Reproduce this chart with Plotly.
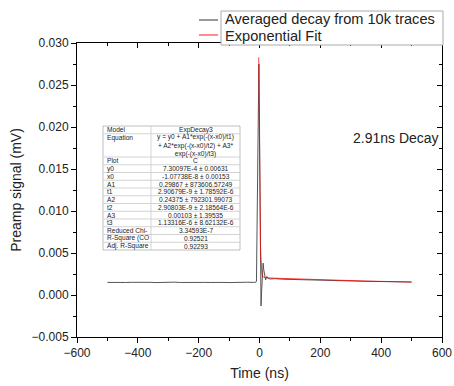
import plotly.graph_objects as go

# ---------------- data ----------------
x_avg = [-500, -480, -460, -440, -420, -400, -380, -360, -340, -320, -300, -280,
         -260, -240, -220, -200, -180, -160, -140, -120, -100, -80, -60, -40,
         -20, -12, -10, -8, -6, -4, -2, 0, 2, 4, 5, 7, 10, 12, 14, 17, 20, 24,
         28, 35, 50, 75, 100, 150, 200, 250, 300, 350, 400, 450, 500]
y_avg = [0.00150, 0.00148, 0.00152, 0.00149, 0.00151, 0.00153, 0.00149, 0.00151,
         0.00148, 0.00152, 0.00150, 0.00153, 0.00149, 0.00151, 0.00148, 0.00152,
         0.00150, 0.00149, 0.00152, 0.00150, 0.00148, 0.00151, 0.00149, 0.00152,
         0.00150, 0.00152, 0.00165, 0.0080, 0.0180, 0.0260, 0.0275, 0.0200,
         0.0080, -0.0005, -0.0013, 0.0005, 0.0030, 0.0038, 0.0030, 0.0020,
         0.0018, 0.0022, 0.0020, 0.0019, 0.00195, 0.00188, 0.00185, 0.00180,
         0.00176, 0.00171, 0.00168, 0.00163, 0.00160, 0.00157, 0.00154]

x_fit = [-2.5, -2, -1, 0, 1, 2, 3, 4, 5, 6, 8, 10, 15, 20, 50, 100, 150, 200,
         250, 300, 350, 400, 450, 500]
y_fit = [0.0283, 0.0255, 0.0190, 0.0142, 0.0107, 0.0081, 0.0062, 0.0048, 0.0039,
         0.0032, 0.0025, 0.0022, 0.0021, 0.00205, 0.0020, 0.00193, 0.00187,
         0.0018, 0.00175, 0.0017, 0.00166, 0.00162, 0.00158, 0.00155]

series_names = ["Averaged decay from 10k traces", "Exponential Fit"]
series_colors = ["#555555", "rgba(255,0,0,0.75)"]

table_col1 = ["Model", "Equation", "Plot", "y0", "x0", "A1", "t1", "A2", "t2", "A3",
              "t3", "Reduced Chi-", "R-Square (CO", "Adj. R-Square"]
table_col2 = ["ExpDecay3",
              "y = y0 + A1*exp(-(x-x0)/t1)<br>+ A2*exp(-(x-x0)/t2) + A3*<br>exp(-(x-x0)/t3)",
              "C", "7.30097E-4 ± 0.00631", "-1.07738E-8 ± 0.00153",
              "0.29867 ± 873606.57249", "2.90679E-9 ± 1.78592E-6",
              "0.24375 ± 792301.99073", "2.90803E-9 ± 2.18564E-6",
              "0.00103 ± 1.39535", "1.13316E-6 ± 8.62132E-6",
              "3.34593E-7", "0.92521", "0.92293"]

annotation_text = "2.91ns Decay"

# ---------------- figure ----------------
FONT = "Liberation Sans, Arial, sans-serif"
W, H = 454, 386
L, R, T, B = 77, 12, 43, 49
PW, PH = W - L - R, H - T - B


def px(xp):
    return (xp - L) / PW


def py(yp):
    return (H - B - yp) / PH


fig = go.Figure()
for xs, ys, nm, col in [(x_avg, y_avg, series_names[0], series_colors[0]),
                        (x_fit, y_fit, series_names[1], series_colors[1])]:
    fig.add_trace(go.Scatter(x=xs, y=ys, mode="lines", name=nm,
                             line=dict(color=col, width=1), showlegend=False))
# helper trace for mirrored axes
fig.add_trace(go.Scatter(x=[None], y=[None], xaxis="x2", yaxis="y2",
                         showlegend=False, hoverinfo="skip"))

axis_common = dict(showgrid=False, zeroline=False, linecolor="black", linewidth=1,
                   automargin=False)

fig.update_layout(
    width=W, height=H,
    margin=dict(l=L, r=R, t=T, b=B, pad=0),
    paper_bgcolor="white", plot_bgcolor="white",
    font=dict(family=FONT, size=12, color="#222"),
    showlegend=False,
    xaxis=dict(range=[-600, 600], dtick=200, tick0=0, ticks="outside", ticklen=5,
               tickcolor="black", tickfont=dict(size=12, color="#222"),
               minor=dict(dtick=100, ticks="outside", ticklen=3, tickcolor="black"),
               title=dict(text="Time (ns)", font=dict(size=14, color="#222"), standoff=8),
               **axis_common),
    yaxis=dict(range=[-0.005, 0.030], dtick=0.005, tick0=0, tickformat=".3f",
               ticks="outside", ticklen=5, tickcolor="black",
               tickfont=dict(size=12, color="#222"),
               minor=dict(dtick=0.0025, ticks="outside", ticklen=3, tickcolor="black"),
               title=dict(text="Preamp signal (mV)", font=dict(size=14, color="#222"),
                          standoff=6),
               **axis_common),
    xaxis2=dict(range=[-600, 600], overlaying="x", side="top", dtick=200, tick0=0,
                ticks="inside", ticklen=5, tickcolor="black", showticklabels=False,
                minor=dict(dtick=100, ticks="inside", ticklen=3, tickcolor="black"),
                **axis_common),
    yaxis2=dict(range=[-0.005, 0.030], overlaying="y", side="right", dtick=0.005,
                tick0=0, ticks="inside", ticklen=5, tickcolor="black",
                showticklabels=False,
                minor=dict(dtick=0.0025, ticks="inside", ticklen=3, tickcolor="black"),
                **axis_common),
)

# ---- legend (frame, samples, labels) ----
fig.add_shape(type="rect", xref="paper", yref="paper",
              x0=px(221), x1=px(443), y0=py(45), y1=py(11),
              line=dict(color="#aaaaaa", width=1), fillcolor="white", layer="above")
for i, (nm, col) in enumerate(zip(series_names, series_colors)):
    fig.add_shape(type="line", xref="paper", yref="paper",
                  x0=px(199), x1=px(218), y0=py(20 + 15 * i), y1=py(20 + 15 * i),
                  line=dict(color=col, width=1.2), layer="above")
    fig.add_annotation(text=nm, xref="paper", yref="paper", x=px(222.5),
                       y=py(19.5 + 16 * i),
                       xanchor="left", yanchor="middle", showarrow=False,
                       font=dict(size=14.6, color="#222"))

fig.add_annotation(text=annotation_text, xref="paper", yref="paper",
                   x=px(396), y=py(138), xanchor="center", yanchor="middle",
                   showarrow=False, font=dict(size=14, color="#222"))

# ---- results table ----
TX0, TX1, TXD = 103, 240, 151
TY0 = 126
unit = 7.75
row_lines = [v.count("<br>") + 1 for v in table_col2]
tot = TY0 + unit * sum(row_lines)
fig.add_shape(type="rect", xref="paper", yref="paper",
              x0=px(TX0), x1=px(TX1), y0=py(tot), y1=py(TY0),
              line=dict(color="#b0b0b0", width=0.8), fillcolor="white", layer="above")
fig.add_shape(type="line", xref="paper", yref="paper",
              x0=px(TXD), x1=px(TXD), y0=py(tot), y1=py(TY0),
              line=dict(color="#c8c8c8", width=0.8), layer="above")
ycur = TY0
for c1, c2, n in zip(table_col1, table_col2, row_lines):
    h = unit * n
    if ycur > TY0:
        fig.add_shape(type="line", xref="paper", yref="paper",
                      x0=px(TX0), x1=px(TX1), y0=py(ycur), y1=py(ycur),
                      line=dict(color="#c8c8c8", width=0.8), layer="above")
    yc = ycur + h / 2
    fig.add_annotation(text=c1, xref="paper", yref="paper", x=px(TX0 + 1.5),
                       y=py(ycur + unit / 2) if n > 1 else py(yc),
                       xanchor="left", yanchor="middle", showarrow=False,
                       font=dict(size=6.6, color="#222"))
    fig.add_annotation(text=c2, xref="paper", yref="paper", x=px((TXD + TX1) / 2),
                       y=py(yc), xanchor="center", yanchor="middle", showarrow=False,
                       align="center", font=dict(size=6.6, color="#222"))
    ycur += h

fig.write_html("out.html")
